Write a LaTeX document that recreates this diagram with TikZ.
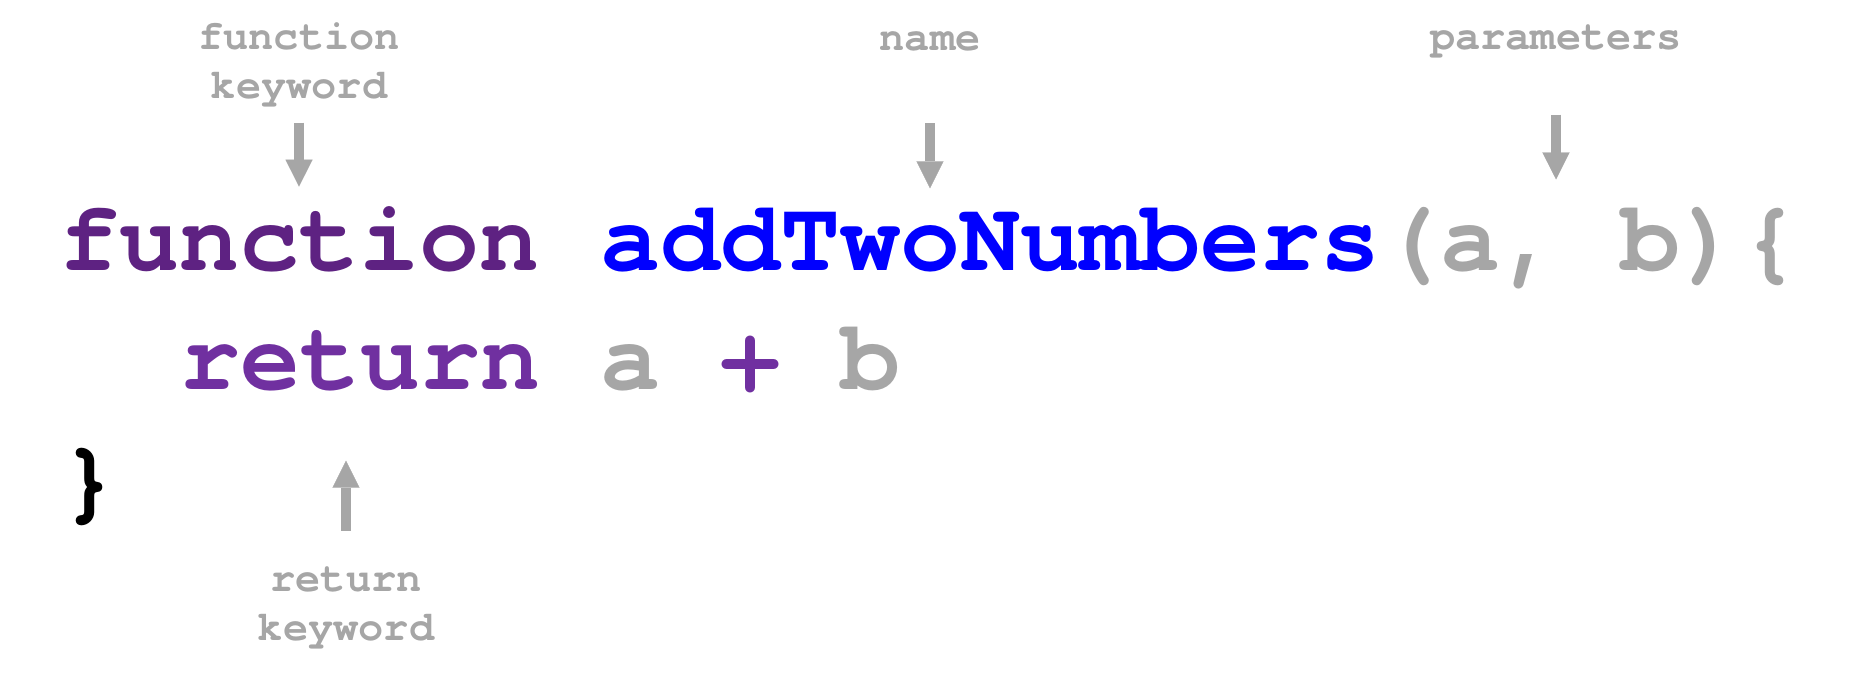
\documentclass[tikz,border=0pt]{standalone}
\usepackage{fontspec}
\usetikzlibrary{arrows.meta}
\newfontfamily\cursorbold{texgyrecursor-bold.otf}
\definecolor{fnpurple}{HTML}{5E2282}
\definecolor{retpurple}{HTML}{7030A0}
\definecolor{gry}{HTML}{A6A6A6}
\definecolor{pureblue}{HTML}{0000FF}
\tikzset{
  code/.style={font=\cursorbold\fontsize{50}{60}\selectfont\frenchspacing,
    inner sep=0pt, outer sep=0pt, anchor=base west},
  lbl/.style={font=\cursorbold\fontsize{21}{24.5}\selectfont, text=gry,
    align=center, inner sep=0pt, outer sep=0pt, anchor=base},
  arr/.style={draw=gry, line width=5pt,
    -{Triangle[length=13.5pt,width=13.5pt,line width=0.1pt]}},
}
\begin{document}
\begin{tikzpicture}[x=0.5pt,y=-0.5pt]
  \useasboundingbox (0,0) rectangle (1870,679);
  % code lines, one column = 60 units
  \node[code, text=fnpurple]  (fn)   at (60,270.7)   {function};
  \node[code, text=pureblue]  (nm)   at (600,270.7)  {addTwoNumbers};
  \node[code, text=gry]       (pr)   at (1380,270.7) {(a, b)};
  \node[code, text=gry]       (ob)   at (1740,270.7) {\{};
  \node[code, text=retpurple] (ret)  at (180,390)    {return};
  \node[code, text=gry]       (va)   at (600,390)    {a};
  \node[code, text=retpurple] (plus) at (720,390)    {+};
  \node[code, text=gry]       (vb)   at (840,390)    {b};
  \node[code, text=black]     (cb)   at (60,510)     {\}};
  % annotations (base = baseline of the last line)
  \node[lbl] (kwf) at (299,99)  {function\\keyword};
  \node[lbl] (kwn) at (930,51)  {name};
  \node[lbl] (kwp) at (1556,50) {parameters};
  \node[lbl] (kwr) at (346,640) {return\\keyword};
  % pointers
  \draw[arr, shorten <=7.5pt, shorten >=10pt]  (kwf.south) -- (kwf.south |- fn.north);
  \draw[arr, shorten <=35.7pt, shorten >=10pt] (kwn.south) -- (kwn.south |- nm.north);
  \draw[arr, shorten <=28pt, shorten >=14pt]   (kwp.south) -- (kwp.south |- pr.north);
  \draw[arr, shorten <=17.7pt, shorten >=6.5pt] (kwr.north) -- (kwr.north |- cb.north);
\end{tikzpicture}
\end{document}
